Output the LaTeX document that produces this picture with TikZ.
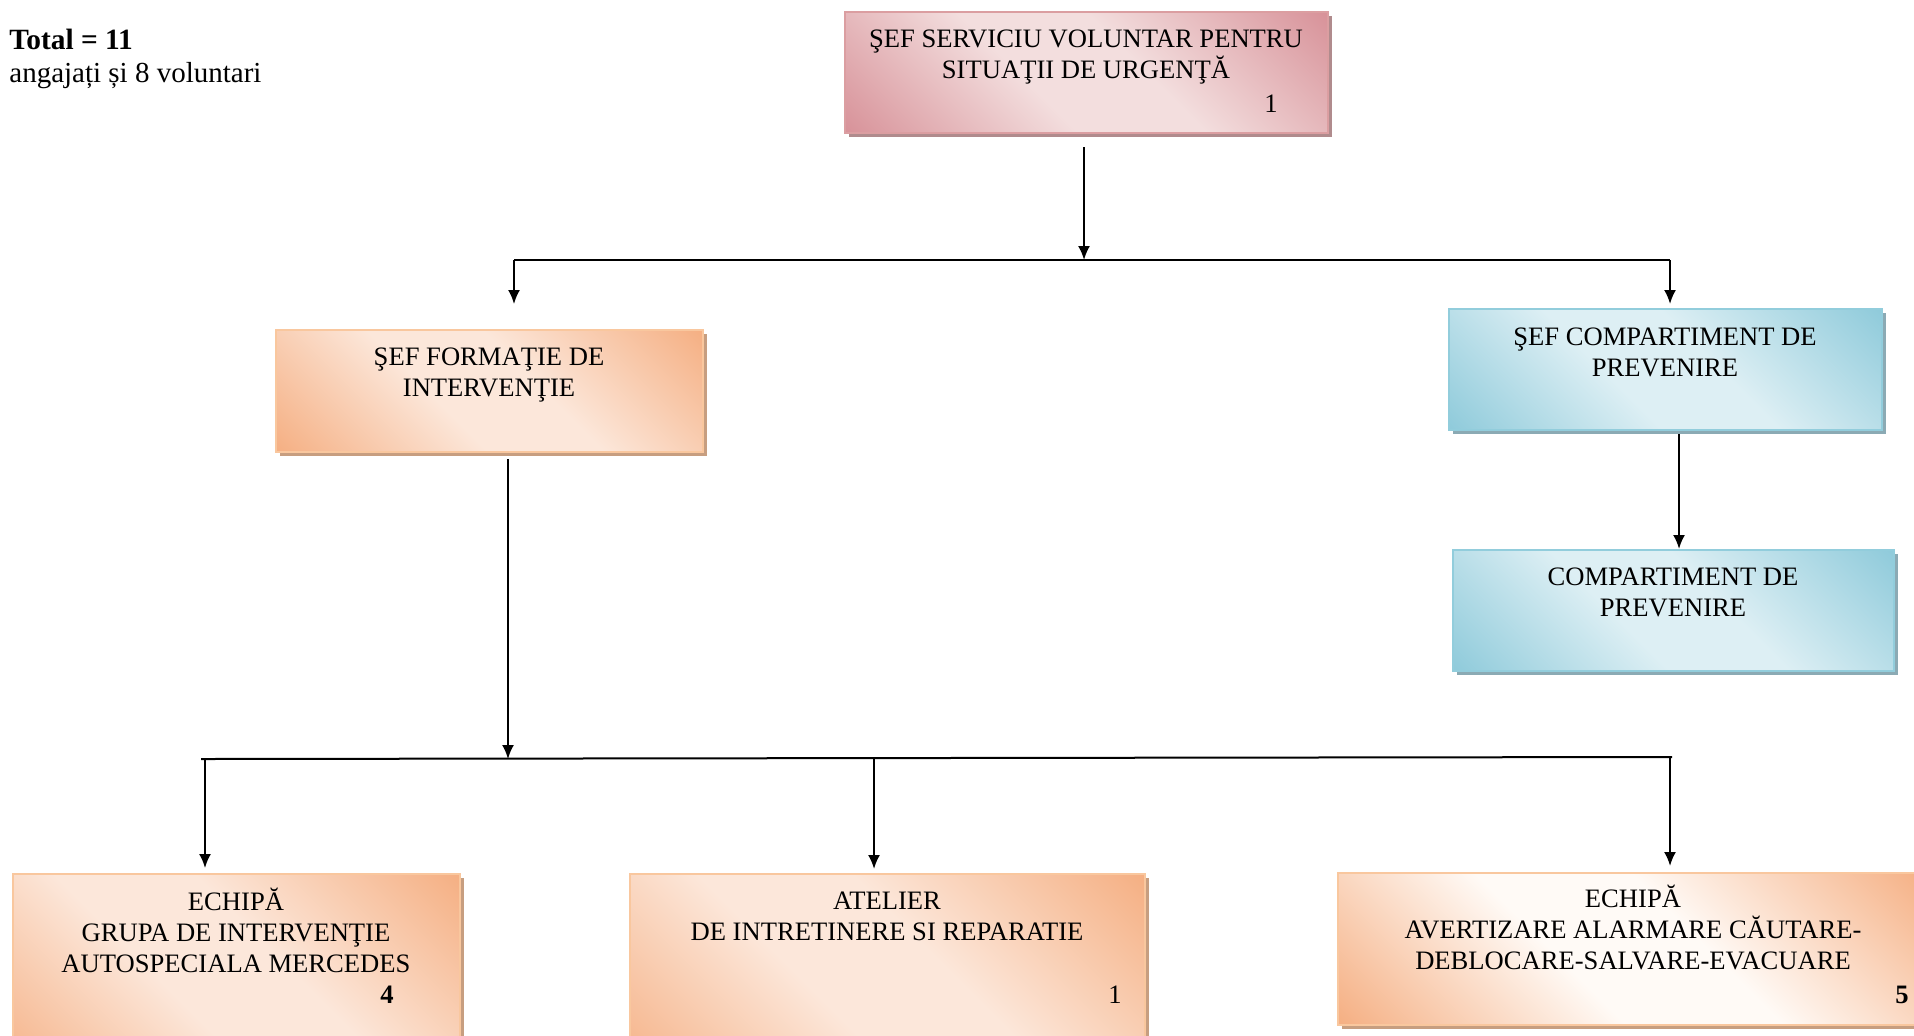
\documentclass[tikz,border=0pt]{standalone}
\usepackage{fontspec}
\setmainfont{Liberation Serif}
\usetikzlibrary{arrows.meta,fit}
\definecolor{pinkD}{HTML}{D8939A}
\definecolor{pinkL}{HTML}{F3DEDE}
\definecolor{pinkS}{HTML}{B08B8D}
\definecolor{pinkB}{HTML}{DB9EA1}
\definecolor{orD}{HTML}{F5B084}
\definecolor{orL}{HTML}{FCE7DA}
\definecolor{orW}{HTML}{FFFAF6}
\definecolor{orS}{HTML}{C79E80}
\definecolor{orB}{HTML}{F9C79E}
\definecolor{blD}{HTML}{90CBDB}
\definecolor{blL}{HTML}{DDEFF4}
\definecolor{blS}{HTML}{8BAAB4}
\definecolor{blB}{HTML}{92CDDC}
\pgfdeclareverticalshading{pinksh}{100bp}{color(0bp)=(pinkD); color(15bp)=(pinkD); color(42bp)=(pinkL); color(57bp)=(pinkL); color(85bp)=(pinkD); color(100bp)=(pinkD)}
\pgfdeclareverticalshading{orsh}{100bp}{color(0bp)=(orD); color(15bp)=(orD); color(42bp)=(orL); color(57bp)=(orL); color(85bp)=(orD); color(100bp)=(orD)}
\pgfdeclareverticalshading{orwsh}{100bp}{color(0bp)=(orD); color(15bp)=(orD); color(42bp)=(orW); color(57bp)=(orW); color(85bp)=(orD); color(100bp)=(orD)}
\pgfdeclareverticalshading{blsh}{100bp}{color(0bp)=(blD); color(15bp)=(blD); color(42bp)=(blL); color(57bp)=(blL); color(85bp)=(blD); color(100bp)=(blD)}
\begin{document}
\begin{tikzpicture}[x=0.5pt,y=-0.5pt,
  box/.style={inner sep=0pt, line width=1pt},
  txt/.style={font=\fontsize{13.3}{15.5}\selectfont, align=center, anchor=north, inner sep=0pt},
  num/.style={font=\fontsize{13.3}{15.5}\selectfont, anchor=base, inner sep=0pt},
  conn/.style={line width=1pt, -{Latex[length=7pt,width=6pt]}},
  plainline/.style={line width=1pt}
]
\useasboundingbox (0,0) rectangle (1914,1035);
\clip (0,0) rectangle (1914,1035);

% header text
\node[anchor=base west, inner sep=0pt, font=\fontsize{14.7}{16}\selectfont\bfseries] (tot) at (9,49) {Total = 11};
\node[anchor=base west, inner sep=0pt, font=\fontsize{14.5}{16}\selectfont] (ang) at (9,82) {angajați și 8 voluntari};

% box corners
\path (845,12) coordinate (a1) (1328,133) coordinate (a2);
\path (276,330) coordinate (b1) (703,452) coordinate (b2);
\path (1449,309) coordinate (c1) (1882,430) coordinate (c2);
\path (1453,550) coordinate (d1) (1894,671) coordinate (d2);
\path (13,874) coordinate (e1) (460,1090) coordinate (e2);
\path (630,874) coordinate (f1) (1145,1090) coordinate (f2);
\path (1338,873) coordinate (g1) (1930,1025) coordinate (g2);

% shadows and shaded fills
\foreach \p/\s/\sh in {a/pinkS/pinksh, b/orS/orsh, c/blS/blsh, d/blS/blsh, e/orS/orsh, f/orS/orsh, g/orS/orwsh}{
  \fill[\s] ([shift={(4,4)}]\p1) rectangle ([shift={(4,4)}]\p2);
  \shade[shading=\sh, shading angle=-45] (\p1) rectangle (\p2);
}

% box borders (named nodes)
\node[box, draw=pinkB, fit=(a1)(a2)] (sef) {};
\node[box, draw=orB, fit=(b1)(b2)] (form) {};
\node[box, draw=blB, fit=(c1)(c2)] (sefc) {};
\node[box, draw=blB, fit=(d1)(d2)] (comp) {};
\node[box, draw=orB, fit=(e1)(e2)] (ech) {};
\node[box, draw=orB, fit=(f1)(f2)] (atel) {};
\node[box, draw=orB, fit=(g1)(g2)] (aver) {};

% texts
\node[txt] (sefT) at (1086,29) {ŞEF SERVICIU VOLUNTAR PENTRU\\SITUAŢII DE URGENŢĂ};
\node[num] (sefN) at (1271,112) {1};
\node[txt] (formT) at (489,347) {ŞEF FORMAŢIE DE\\INTERVENŢIE};
\node[txt] (sefcT) at (1665,327) {ŞEF COMPARTIMENT DE\\PREVENIRE};
\node[txt] (compT) at (1673,567) {COMPARTIMENT DE\\PREVENIRE};
\node[txt] (echT) at (236,888) {ECHIPĂ\\GRUPA DE INTERVENŢIE\\AUTOSPECIALA MERCEDES};
\node[num, font=\fontsize{13.3}{15.5}\selectfont\bfseries] (echN) at (387,1003) {4};
\node[txt] (atelT) at (887,892) {ATELIER\\DE INTRETINERE SI REPARATIE};
\node[num] (atelN) at (1115,1003) {1};
\node[txt] (averT) at (1633,885) {ECHIPĂ\\AVERTIZARE ALARMARE CĂUTARE-\\DEBLOCARE-SALVARE-EVACUARE};
\node[num, font=\fontsize{13.3}{15.5}\selectfont\bfseries] (averN) at (1902,1003) {5};

% connectors, top level
\coordinate (j1) at (1084,260);
\coordinate (jL) at (514,260);
\coordinate (jR) at (1670,260);
\draw[conn] (sef.south -| j1) ++(0,13) -- (j1);
\draw[plainline] (jL) -- (jR);
\draw[conn, shorten >=12.5pt] (jL) -- (jL |- form.north);
\draw[conn, shorten >=2pt] (jR) -- (jR |- sefc.north);

% prevention branch
\coordinate (bx) at (1679,0);
\draw[conn] (sefc.south -| bx) ++(0,3) -- (comp.north -| bx);

% intervention branch
\coordinate (j2) at (508,759);
\coordinate (hL) at (201,759);
\coordinate (hR) at (1672,757);
\coordinate (k1) at (205,759);
\coordinate (k2) at (874,759);
\coordinate (k3) at (1670,757);
\draw[conn] (form.south -| j2) ++(0,6) -- (j2);
\draw[plainline] (hL) -- (hR);
\draw[conn, shorten >=2.5pt] (k1) -- (k1 |- ech.north);
\draw[conn, shorten >=2pt] (k2) -- (k2 |- atel.north);
\draw[conn, shorten >=3pt] (k3) -- (k3 |- aver.north);
\end{tikzpicture}
\end{document}
